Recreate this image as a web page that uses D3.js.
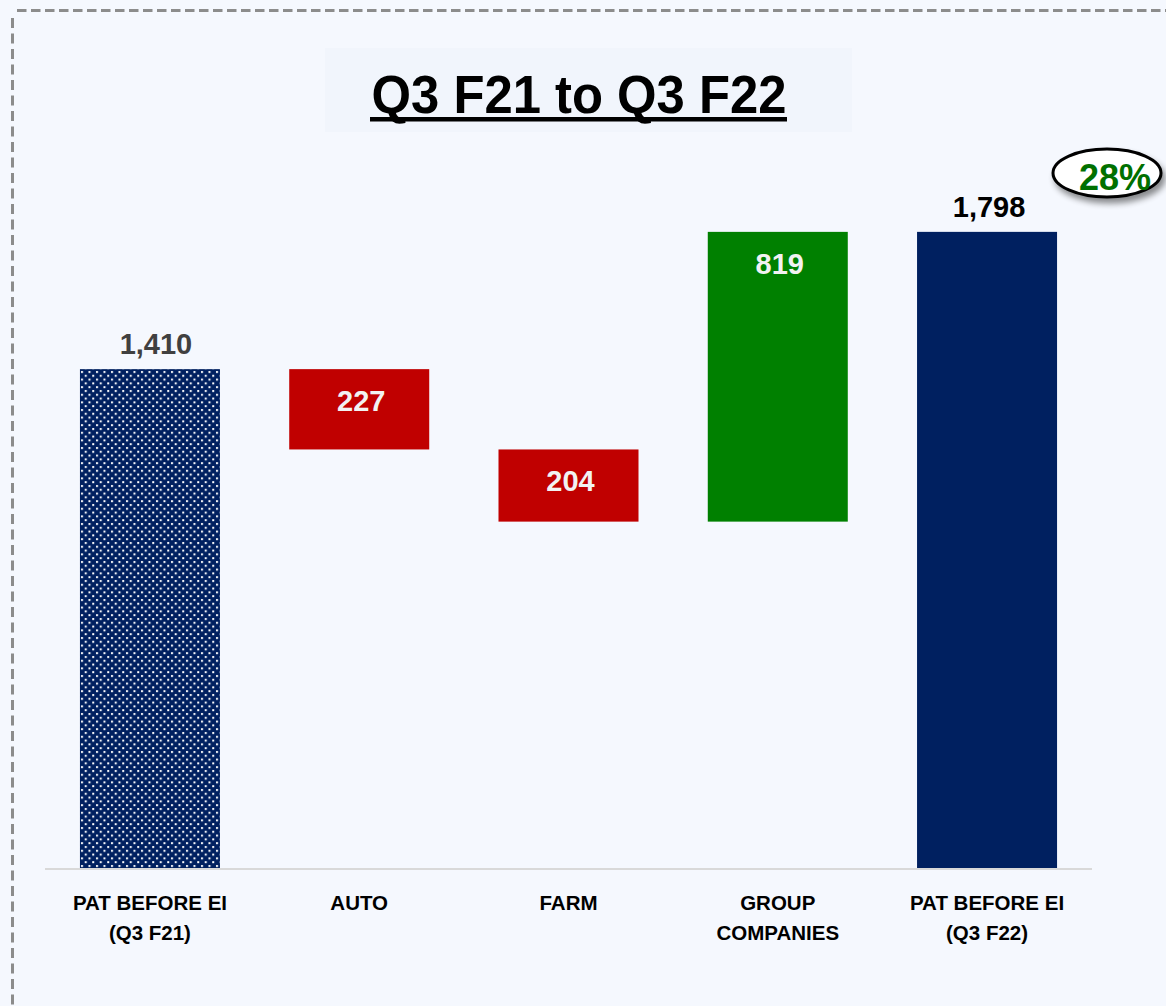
<!DOCTYPE html>
<html>
<head>
<meta charset="utf-8">
<script src="https://cdn.jsdelivr.net/npm/d3@7"></script>
<style>
  html, body { margin: 0; padding: 0; background: #f5f8fe; }
  svg { display: block; }
</style>
</head>
<body>
<svg id="chart" width="1166" height="1006"></svg>
<script>
// Profit bridge: PAT before exceptional items, Q3 F21 -> Q3 F22
const categories = [["PAT BEFORE EI", "(Q3 F21)"], ["AUTO"], ["FARM"], ["GROUP", "COMPANIES"], ["PAT BEFORE EI", "(Q3 F22)"]];
const barKinds = ["start", "decrease", "decrease", "increase", "end"];
const values = [1410, -227, -204, 819, 1798];
const titleText = "Q3 F21 to Q3 F22";
const growthText = "28%";

const W = 1166, H = 1006;
const svg = d3.select("#chart");
const FONT = "'Liberation Sans', Arial, sans-serif";

// floating segments of the bridge
let running = 0;
const bars = values.map((v, i) => {
  const kind = barKinds[i];
  let lo, hi;
  if (kind === "start" || kind === "end") { lo = 0; hi = v; running = v; }
  else { const next = running + v; lo = Math.min(running, next); hi = Math.max(running, next); running = next; }
  return { i, kind, value: v, lo, hi, label: d3.format(",")(Math.abs(v)) };
});

const x = d3.scaleBand().domain(d3.range(categories.length)).range([45, 1092])
  .paddingInner(0.331).paddingOuter(0.167);
const y = d3.scaleLinear().domain([0, 2000]).range([868, 160.4]);

const defs = svg.append("defs");
const pat = defs.append("pattern").attr("id", "dots").attr("patternUnits", "userSpaceOnUse")
  .attr("width", 7.5).attr("height", 7.6).attr("x", 80).attr("y", 370);
pat.append("rect").attr("width", 7.5).attr("height", 7.6).attr("fill", "#002060");
pat.append("rect").attr("x", 1).attr("y", 1).attr("width", 2).attr("height", 2).attr("fill", "#ffffff");
pat.append("rect").attr("x", 4.75).attr("y", 4.8).attr("width", 2).attr("height", 2).attr("fill", "#ffffff");

const shadow = defs.append("filter").attr("id", "shadow").attr("x", "-30%").attr("y", "-40%").attr("width", "160%").attr("height", "200%");
shadow.append("feGaussianBlur").attr("in", "SourceAlpha").attr("stdDeviation", 3);
shadow.append("feOffset").attr("dx", 3).attr("dy", 5).attr("result", "b");
shadow.append("feComponentTransfer").append("feFuncA").attr("type", "linear").attr("slope", 0.45);
const m = shadow.append("feMerge");
m.append("feMergeNode");
m.append("feMergeNode").attr("in", "SourceGraphic");

// dashed frame
svg.append("line").attr("x1", 17).attr("x2", W).attr("y1", 10.5).attr("y2", 10.5)
  .attr("stroke", "#8c8c8c").attr("stroke-width", 3).attr("stroke-dasharray", "9.5,4.5");
svg.append("line").attr("x1", 12.5).attr("x2", 12.5).attr("y1", 18).attr("y2", H)
  .attr("stroke", "#8c8c8c").attr("stroke-width", 3).attr("stroke-dasharray", "10,5.5");

// title
svg.append("rect").attr("x", 325).attr("y", 48).attr("width", 527).attr("height", 84).attr("fill", "#f1f5fc");
svg.append("text").attr("x", 579).attr("y", 113).attr("text-anchor", "middle")
  .attr("font-family", FONT).attr("font-weight", "bold").attr("font-size", 54)
  .attr("textLength", 415).attr("lengthAdjust", "spacingAndGlyphs").attr("fill", "#000").text(titleText);
svg.append("rect").attr("x", 370).attr("y", 117).attr("width", 417).attr("height", 4.5).attr("fill", "#000");

// baseline
svg.append("line").attr("x1", 45).attr("x2", 1092).attr("y1", 869).attr("y2", 869)
  .attr("stroke", "#d9d9d9").attr("stroke-width", 2);

const fillFor = k => k === "start" ? "url(#dots)" : k === "end" ? "#002060" : k === "decrease" ? "#c00000" : "#008000";

svg.append("g").selectAll("rect").data(bars).join("rect")
  .attr("x", d => x(d.i)).attr("width", x.bandwidth())
  .attr("y", d => y(d.hi)).attr("height", d => y(d.lo) - y(d.hi))
  .attr("fill", d => fillFor(d.kind));

// value labels
svg.append("g").selectAll("text").data(bars).join("text")
  .attr("x", d => x(d.i) + x.bandwidth() / 2 + (d.kind === "start" ? 6 : 2))
  .attr("y", d => (d.kind === "start" || d.kind === "end") ? y(d.hi) - 15 : y(d.hi) + 42)
  .attr("text-anchor", "middle").attr("font-family", FONT).attr("font-weight", "bold").attr("font-size", 29)
  .attr("fill", d => d.kind === "start" ? "#404040" : d.kind === "end" ? "#000" : "#f2f2f2")
  .text(d => d.label);

// category labels
const cat = svg.append("g").selectAll("text").data(categories).join("text")
  .attr("x", (d, i) => x(i) + x.bandwidth() / 2).attr("y", 910)
  .attr("text-anchor", "middle").attr("font-family", FONT).attr("font-weight", "bold").attr("font-size", 20.5)
  .attr("fill", "#000");
cat.selectAll("tspan").data(d => d).join("tspan")
  .attr("x", function () { return d3.select(this.parentNode).attr("x"); })
  .attr("dy", (d, j) => j === 0 ? 0 : 30).text(d => d);

// growth badge
const badge = svg.append("g").attr("filter", "url(#shadow)");
badge.append("ellipse").attr("cx", 1107).attr("cy", 173).attr("rx", 54).attr("ry", 24)
  .attr("fill", "#ffffff").attr("stroke", "#000").attr("stroke-width", 3);
svg.append("text").attr("x", 1115).attr("y", 190).attr("text-anchor", "middle")
  .attr("font-family", FONT).attr("font-weight", "bold").attr("font-size", 36)
  .attr("fill", "#007000").text(growthText);
</script>
</body>
</html>
